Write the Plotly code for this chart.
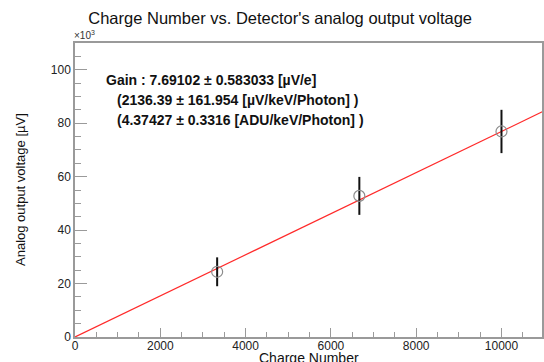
import plotly.graph_objects as go

# ---- data ----
charge_number = [3333, 6667, 10000]
voltage_k_uV = [24.4, 52.8, 76.9]       # analog output voltage, x10^3 uV
voltage_err_k_uV = [5.4, 7.1, 8.1]
gain_uV_per_e = 7.69102
fit_x = [0, 11000]
fit_y = [gain_uV_per_e * x / 1000.0 for x in fit_x]

x_ticks = [0, 2000, 4000, 6000, 8000, 10000]
x_tick_labels = ["0", "2000", "4000", "6000", "8000", "10000"]
y_ticks = [0, 20, 40, 60, 80, 100]
y_tick_labels = ["0", "20", "40", "60", "80", "100"]

gain_lines = [
    "Gain : 7.69102 ± 0.583033 [µV/e]",
    "(2136.39 ± 161.954 [µV/keV/Photon] )",
    "(4.37427 ± 0.3316 [ADU/keV/Photon] )",
]

FONT = "Liberation Sans, Arial, Helvetica, sans-serif"
AX = "#9a9a9a"

fig = go.Figure()
fig.add_trace(go.Scatter(
    x=fit_x, y=fit_y, mode="lines",
    line=dict(color="#ff2a2a", width=1.2), showlegend=False, hoverinfo="skip",
))
fig.add_trace(go.Scatter(
    x=charge_number, y=voltage_k_uV, mode="markers",
    marker=dict(symbol="circle-open", size=11, color="#8c8c8c", line=dict(width=1.2)),
    error_y=dict(type="data", array=voltage_err_k_uV, color="#111111", thickness=2, width=0),
    showlegend=False,
))

axis_common = dict(
    showgrid=False, zeroline=False, showline=True, linecolor=AX, linewidth=1.5,
    mirror=True, ticks="inside", tickcolor=AX, tickwidth=1, automargin=False,
    tickfont=dict(family=FONT, size=12, color="#222222"),
)

fig.update_xaxes(
    range=[0, 10950], tickvals=x_ticks, ticktext=x_tick_labels, ticklen=9,
    minor=dict(dtick=500, ticklen=5, tickcolor=AX, ticks="inside"),
    **axis_common,
)
try:
    fig.update_xaxes(ticklabelstandoff=-3)
except Exception:
    pass
fig.update_yaxes(
    range=[0, 110], tickvals=y_ticks, ticktext=y_tick_labels, ticklen=12,
    minor=dict(dtick=5, ticklen=6, tickcolor=AX, ticks="inside"),
    **axis_common,
)

annotations = []
ys = [96.0, 88.7, 81.3]
xs = [669, 927, 927]
for txt, xx, yy in zip(gain_lines, xs, ys):
    annotations.append(dict(
        x=xx, y=yy, xref="x", yref="y", text="<b>" + txt + "</b>", showarrow=False,
        xanchor="left", yanchor="middle", font=dict(family=FONT, size=14, color="#111111"),
    ))
annotations.append(dict(
    x=0, y=1, xref="paper", yref="paper", text="×10<sup>3</sup>", showarrow=False,
    xanchor="left", yanchor="bottom", xshift=-3, yshift=0,
    font=dict(family=FONT, size=10, color="#333333"),
))
# axis titles
annotations.append(dict(
    x=0.5, y=0, xref="paper", yref="paper", text="Charge Number", showarrow=False,
    xanchor="center", yanchor="middle", yshift=-21,
    font=dict(family=FONT, size=14, color="#111111"),
))
annotations.append(dict(
    x=0, y=0.5, xref="paper", yref="paper", text="Analog output voltage [µV]", showarrow=False,
    xanchor="center", yanchor="middle", xshift=-55, textangle=-90,
    font=dict(family=FONT, size=13, color="#111111"),
))

fig.update_layout(
    width=544, height=362,
    margin=dict(l=75, r=2, t=43, b=25),
    paper_bgcolor="white", plot_bgcolor="white",
    title=dict(text="Charge Number vs. Detector's analog output voltage",
               x=0.515, xanchor="center", y=0.95, yanchor="middle", yref="container",
               font=dict(family=FONT, size=16.5, color="#111111")),
    annotations=annotations,
)

fig.write_html("out.html", post_script="document.body.style.margin='0';",
               config={"displayModeBar": False})
